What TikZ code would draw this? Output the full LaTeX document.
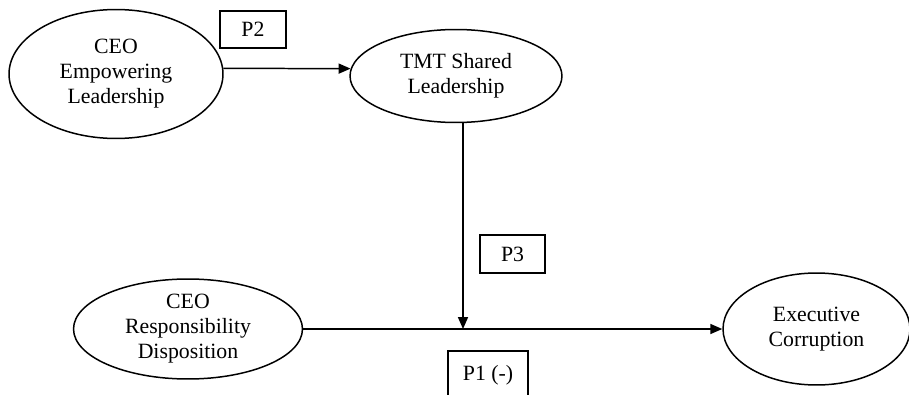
\documentclass[tikz,border=0pt]{standalone}
\usepackage{fontspec}
\setmainfont{Liberation Serif}
\usepackage{tikz}
\usetikzlibrary{arrows.meta}
\usetikzlibrary{shapes.geometric}

\begin{document}
\begin{tikzpicture}[x=0.02cm,y=-0.02cm,>={Triangle[length=6.8pt,width=5.7pt]}]
\tikzstyle{construct}=[ellipse,draw,line width=0.85pt,inner sep=0pt,align=center,font=\fontsize{12.4}{14.2}\selectfont]
\tikzstyle{prop}=[rectangle,draw,line width=0.85pt,inner sep=0pt,font=\fontsize{12.4}{14.2}\selectfont]
\clip (0,0) rectangle (909,395);
\node[construct,minimum width=4.28cm,minimum height=2.58cm] (emp) at (116,74) {CEO\\Empowering\\Leadership};
\node[construct,minimum width=4.24cm,minimum height=1.86cm] (tmt) at (456,76) {TMT Shared\\Leadership};
\node[construct,minimum width=4.58cm,minimum height=2.0cm] (resp) at (188,329) {CEO\\Responsibility\\Disposition};
\node[construct,minimum width=3.74cm,minimum height=2.24cm] (corr) at (816.5,329) {Executive\\Corruption};
\node[prop,minimum width=1.32cm,minimum height=0.74cm] (p2) at (253,29.5) {P2};
\node[prop,minimum width=1.3cm,minimum height=0.76cm] (p3) at (512.5,254) {P3};
\node[prop,minimum width=1.6cm,minimum height=0.96cm] (p1) at (488,375) {P1 (-)};
\coordinate (meet) at (463,329);
\draw[->,line width=0.85pt] (emp.3) -- (tmt.176);
\draw[->,line width=0.85pt] (resp.east) -- (corr.west);
\draw[->,line width=0.85pt] (tmt.south -| meet) -- (meet);
\end{tikzpicture}
\end{document}
